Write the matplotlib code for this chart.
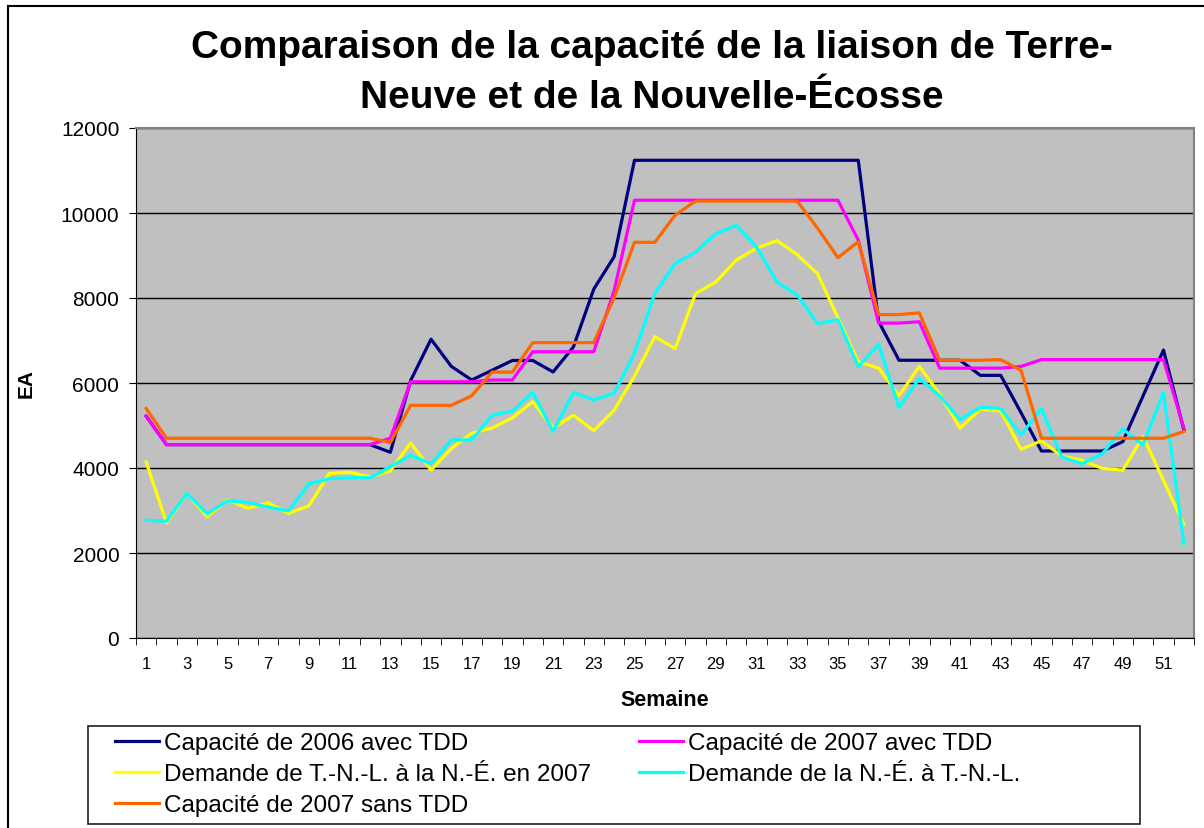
import matplotlib.pyplot as plt
import numpy as np
from matplotlib.patches import Rectangle
from matplotlib.lines import Line2D

plt.rcParams['font.family'] = ['Liberation Sans', 'DejaVu Sans']

weeks = list(range(1, 53))

# Capacité de 2006 avec TDD
cap2006 = [5220, 4550, 4550, 4550, 4550, 4550, 4550, 4550, 4550, 4550,
           4550, 4550, 4370, 6060, 7030, 6390, 6070, 6300, 6530, 6530,
           6260, 6850, 8210, 8970, 11240, 11240, 11240, 11240, 11240, 11240,
           11240, 11240, 11240, 11240, 11240, 11240, 7450, 6535, 6535, 6535,
           6535, 6180, 6180, 5300, 4400, 4400, 4400, 4400, 4620, 5700,
           6775, 4900]
# Capacité de 2007 avec TDD
cap2007 = [5220, 4550, 4550, 4550, 4550, 4550, 4550, 4550, 4550, 4550,
           4550, 4550, 4700, 6030, 6030, 6030, 6030, 6070, 6070, 6735,
           6735, 6735, 6735, 8170, 10300, 10300, 10300, 10300, 10300, 10300,
           10300, 10300, 10300, 10300, 10300, 9360, 7410, 7410, 7440, 6350,
           6350, 6350, 6350, 6390, 6550, 6550, 6550, 6550, 6550, 6550,
           6550, 4940]
# Demande de T.-N.-L. à la N.-É. en 2007
dem_tnl = [4140, 2710, 3400, 2850, 3250, 3050, 3180, 2930, 3110, 3870,
           3900, 3790, 3930, 4590, 3950, 4460, 4820, 4940, 5180, 5560,
           4940, 5240, 4880, 5360, 6160, 7090, 6810, 8100, 8380, 8890,
           9170, 9350, 9020, 8570, 7530, 6500, 6350, 5700, 6390, 5740,
           4940, 5380, 5340, 4440, 4640, 4280, 4180, 3990, 3950, 4740,
           3710, 2670]
# Demande de la N.-É. à T.-N.-L.
dem_ne = [2770, 2750, 3400, 2925, 3230, 3190, 3080, 2990, 3630, 3750,
          3770, 3770, 4030, 4300, 4100, 4660, 4660, 5240, 5340, 5780,
          4860, 5780, 5600, 5760, 6700, 8110, 8810, 9080, 9510, 9710,
          9200, 8380, 8070, 7400, 7490, 6380, 6910, 5420, 6110, 5700,
          5140, 5430, 5400, 4780, 5400, 4260, 4100, 4340, 4920, 4540,
          5780, 2230]
# Capacité de 2007 sans TDD
cap2007_sans = [5400, 4700, 4700, 4700, 4700, 4700, 4700, 4700, 4700, 4700,
                4700, 4700, 4600, 5475, 5475, 5475, 5700, 6256, 6256, 6950,
                6950, 6950, 6950, 8010, 9310, 9310, 9950, 10280, 10280, 10280,
                10280, 10280, 10280, 9640, 8950, 9325, 7610, 7610, 7650, 6535,
                6535, 6535, 6550, 6300, 4700, 4700, 4700, 4700, 4700, 4700,
                4700, 4860]

W, H = 1204, 829
fig = plt.figure(figsize=(W / 100, H / 100), dpi=100)
ax = fig.add_axes([136 / W, 1 - 639 / H, (1194 - 136) / W, (639 - 129) / H])
ax.set_facecolor('#C0C0C0')

lw = 2.3
l1, = ax.plot(weeks, cap2006, color='#000080', lw=lw, label='Capacité de 2006 avec TDD')
l2, = ax.plot(weeks, cap2007, color='#FF00FF', lw=lw, label='Capacité de 2007 avec TDD')
l3, = ax.plot(weeks, dem_tnl, color='#FFFF00', lw=lw, label='Demande de T.-N.-L. à la N.-É. en 2007')
l4, = ax.plot(weeks, dem_ne, color='#00FFFF', lw=lw, label='Demande de la N.-É. à T.-N.-L.')
l5, = ax.plot(weeks, cap2007_sans, color='#FF6600', lw=lw, label='Capacité de 2007 sans TDD')

ax.set_xlim(0.5, 52.5)
ax.set_ylim(0, 12000)
ax.set_yticks(range(0, 12001, 2000))
ax.yaxis.grid(True, color='black', lw=1)
ax.set_axisbelow(True)

ax.set_xticks(weeks[::2])
ax.set_xticks(np.arange(0.5, 53), minor=True)
ax.tick_params(axis='x', which='major', length=0, labelsize=12, pad=13)
ax.tick_params(axis='x', which='minor', length=5, direction='out')
ax.tick_params(axis='y', length=5, labelsize=15, pad=7)

for s in ['top', 'right']:
    ax.spines[s].set_color('#808080')
    ax.spines[s].set_linewidth(1.5)

ax.set_xlabel('Semaine', fontsize=15.5, fontweight='bold')
ax.xaxis.set_label_coords(0.5, -(701 - 639) / 510)
ax.xaxis.label.set_va('center')
ax.set_ylabel('EA', fontsize=15, fontweight='bold')
ax.yaxis.set_label_coords((26 - 136) / 1058, (639 - 383) / 510)
ax.yaxis.label.set_va('center')

fig.text(652 / W, 1 - 58 / H, 'Comparaison de la capacité de la liaison de Terre-',
         ha='center', va='baseline', fontsize=28, fontweight='bold')
fig.text(652 / W, 1 - 108 / H, 'Neuve et de la Nouvelle-Écosse',
         ha='center', va='baseline', fontsize=28, fontweight='bold')

handles = [l1, l3, l5, l2, l4]
fig.legend(handles, [h.get_label() for h in handles],
           ncol=2, loc='upper left', bbox_to_anchor=(115 / W, 1 - 733 / H),
           fontsize=17.5, handlelength=1.8, handletextpad=0.2,
           columnspacing=2.0, labelspacing=0.37, borderpad=0,
           borderaxespad=0, frameon=False)

fig.patches.append(Rectangle((88 / W, 1 - 825 / H), (1140 - 88) / W, (825 - 727) / H,
                             transform=fig.transFigure, fill=False,
                             edgecolor='#202020', lw=1.2))

# outer chart frame (left and top edges visible)
fig.lines.append(Line2D([8 / W, 8 / W], [0, 1 - 7 / H], transform=fig.transFigure,
                        color='black', lw=1.5))
fig.lines.append(Line2D([8 / W, 1], [1 - 7 / H, 1 - 7 / H], transform=fig.transFigure,
                        color='black', lw=1.5))

fig.savefig('out.png', dpi=100)
